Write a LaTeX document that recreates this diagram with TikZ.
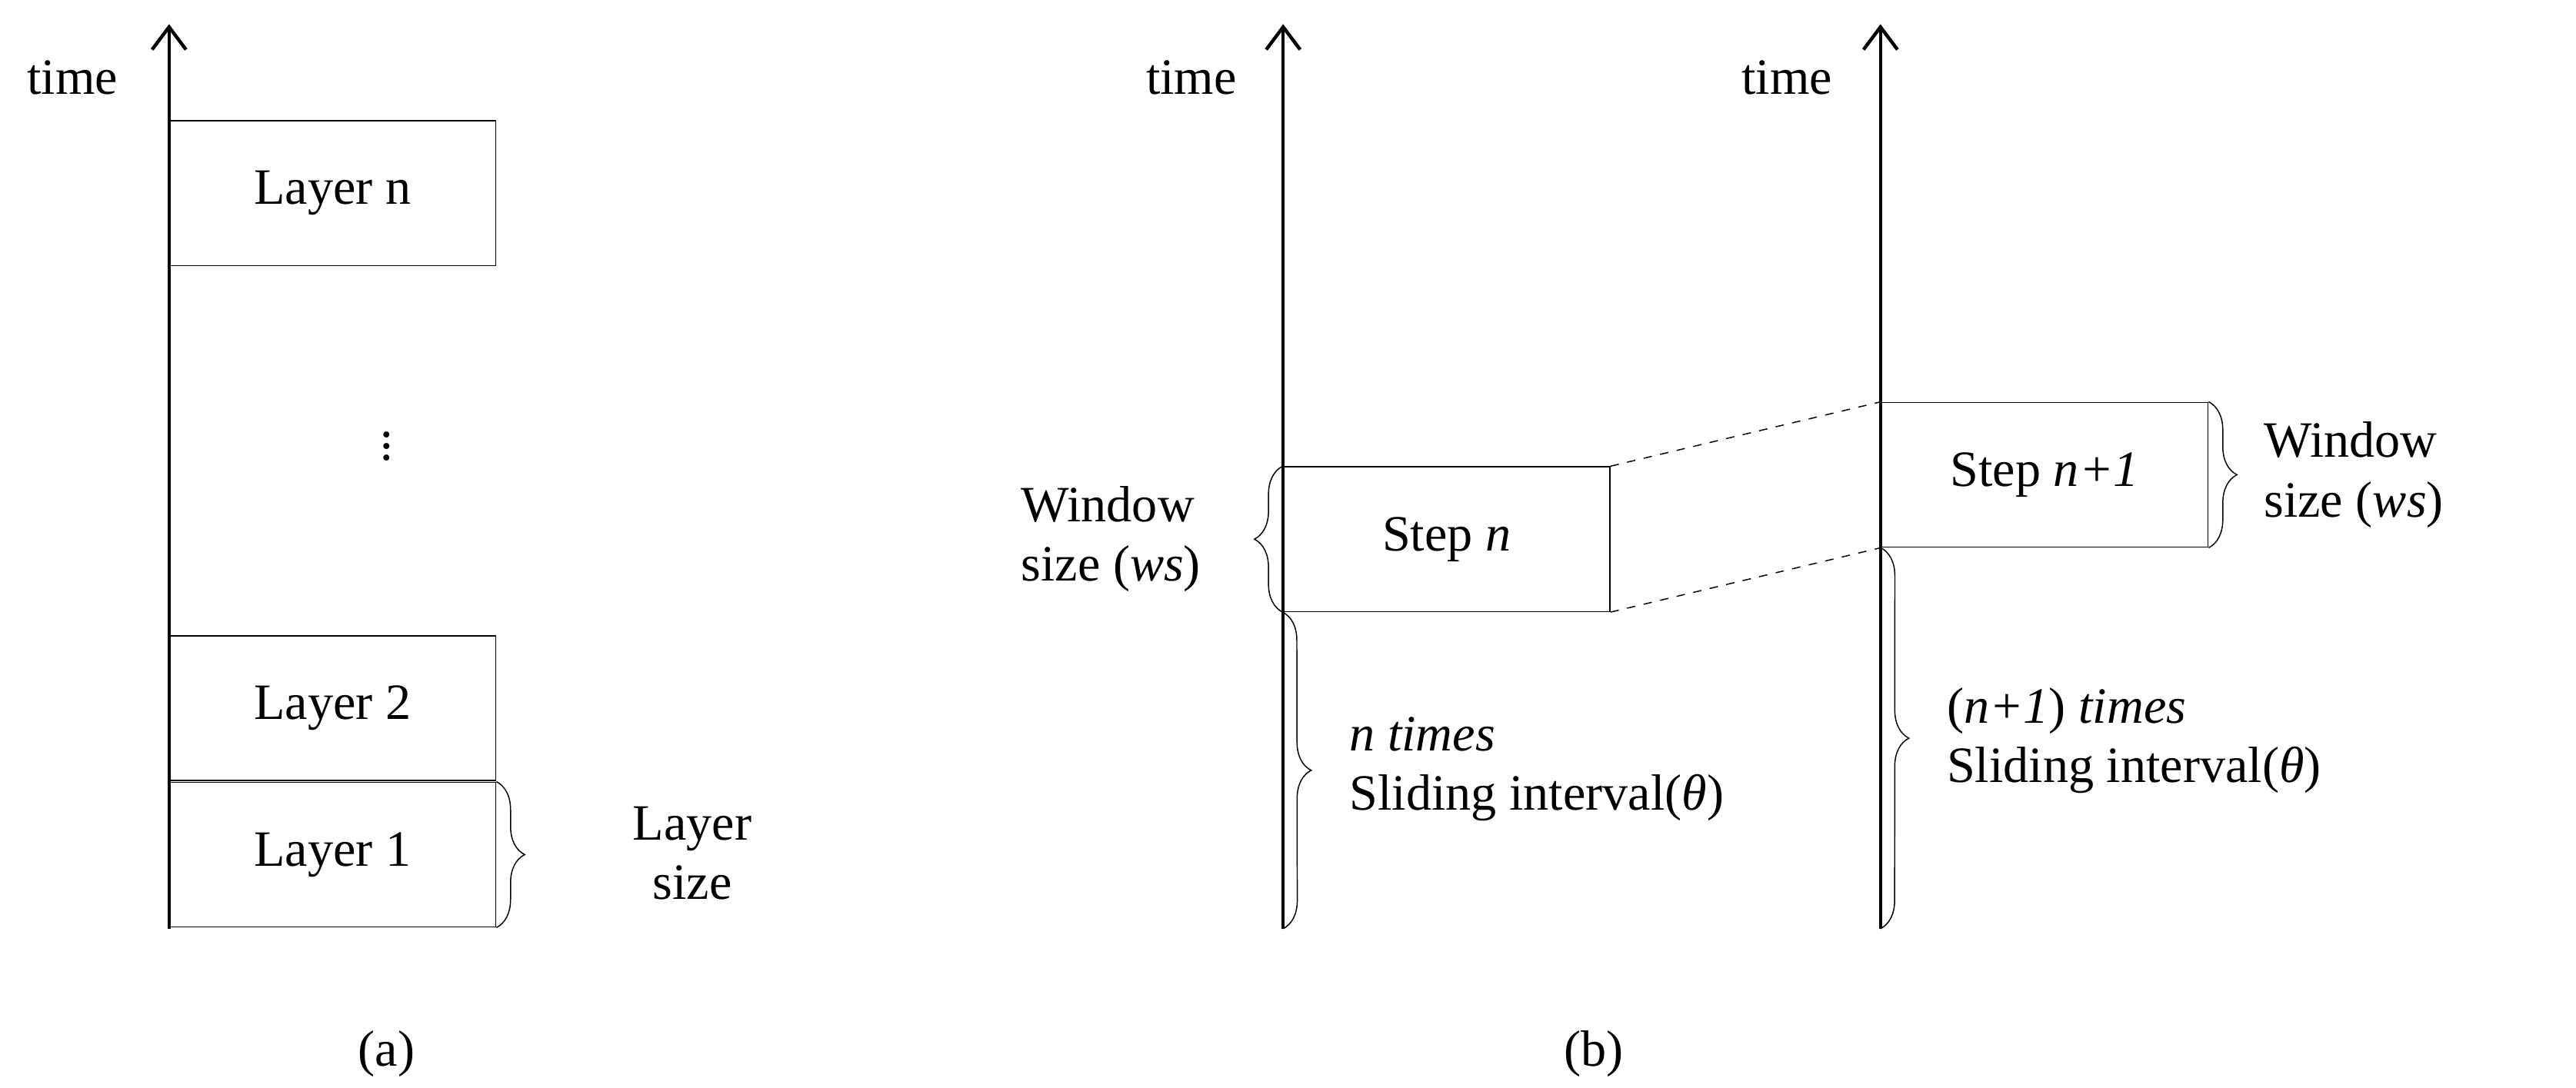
\documentclass[tikz,border=0pt]{standalone}
\usepackage{fontspec}
\setmainfont{Liberation Serif}
\usetikzlibrary{decorations.pathreplacing, arrows.meta}

\begin{document}
\begin{tikzpicture}[x=0.02cm, y=-0.02cm,
	every node/.style={font=\fontsize{18}{21}\selectfont},
	layer/.style={draw, thin, minimum width=4.06cm, minimum height=1.8cm, inner sep=0pt},
	axis/.style={-{Straight Barb[length=8pt,width=12pt]}, line width=1.2pt},
	brace/.style={decorate, decoration={brace, amplitude=10pt}},
	]
	\useasboundingbox (0,0) rectangle (1600,676);

	% (a)
	\coordinate (a0) at (105,577);
	\coordinate (a1) at (105,15);
	\draw[axis] (a0) -- (a1);
	\node (ta) at (45,48) {time};
	\node[layer] (ln) at (206.5,120) {Layer n};
	\node[layer] (l2) at (206.5,440) {Layer 2};
	\node[layer] (l1) at (206.5,531) {Layer 1};
	\node (dots) at (240,272) {$\vdots$};
	\draw[brace] (l1.north east) -- (l1.south east) coordinate[midway] (lb);
	\node[align=center] (lsize) at (430,530) {Layer\\size};
	\node (capa) at (240,655) {(a)};

	% (b)
	\coordinate (b0) at (797,577);
	\coordinate (b1) at (797,15);
	\coordinate (c0) at (1168,577);
	\coordinate (c1) at (1168,15);
	\draw[axis] (b0) -- (b1);
	\draw[axis] (c0) -- (c1);
	\node (tb) at (740,48) {time};
	\node (tc) at (1110,48) {time};

	\node[layer] (sn) at (898.5,335) {Step \textit{n}};
	\node[layer] (sm) at (1270,295) {Step \textit{n+1}};
	\draw[dashed, thin] (sn.north east) -- (sm.north west);
	\draw[dashed, thin] (sn.south east) -- (sm.south west);

	\draw[brace] (sn.south west) -- (sn.north west);
	\node[align=left] (wsn) at (690,335) {Window\\size (\textit{ws})};
	\draw[brace] (sm.north east) -- (sm.south east);
	\node[align=left] (wsm) at (1462,295) {Window\\size (\textit{ws})};

	\draw[brace] (sn.south west) -- (b0);
	\node[align=left, anchor=west] (itn) at (832,478) {\textit{n times}\\Sliding interval(\textit{θ})};
	\draw[brace] (sm.south west) -- (c0);
	\node[align=left, anchor=west] (itm) at (1203,460) {(\textit{n+1}) \textit{times}\\Sliding interval(\textit{θ})};

	\node (capb) at (990,655) {(b)};
\end{tikzpicture}
\end{document}
